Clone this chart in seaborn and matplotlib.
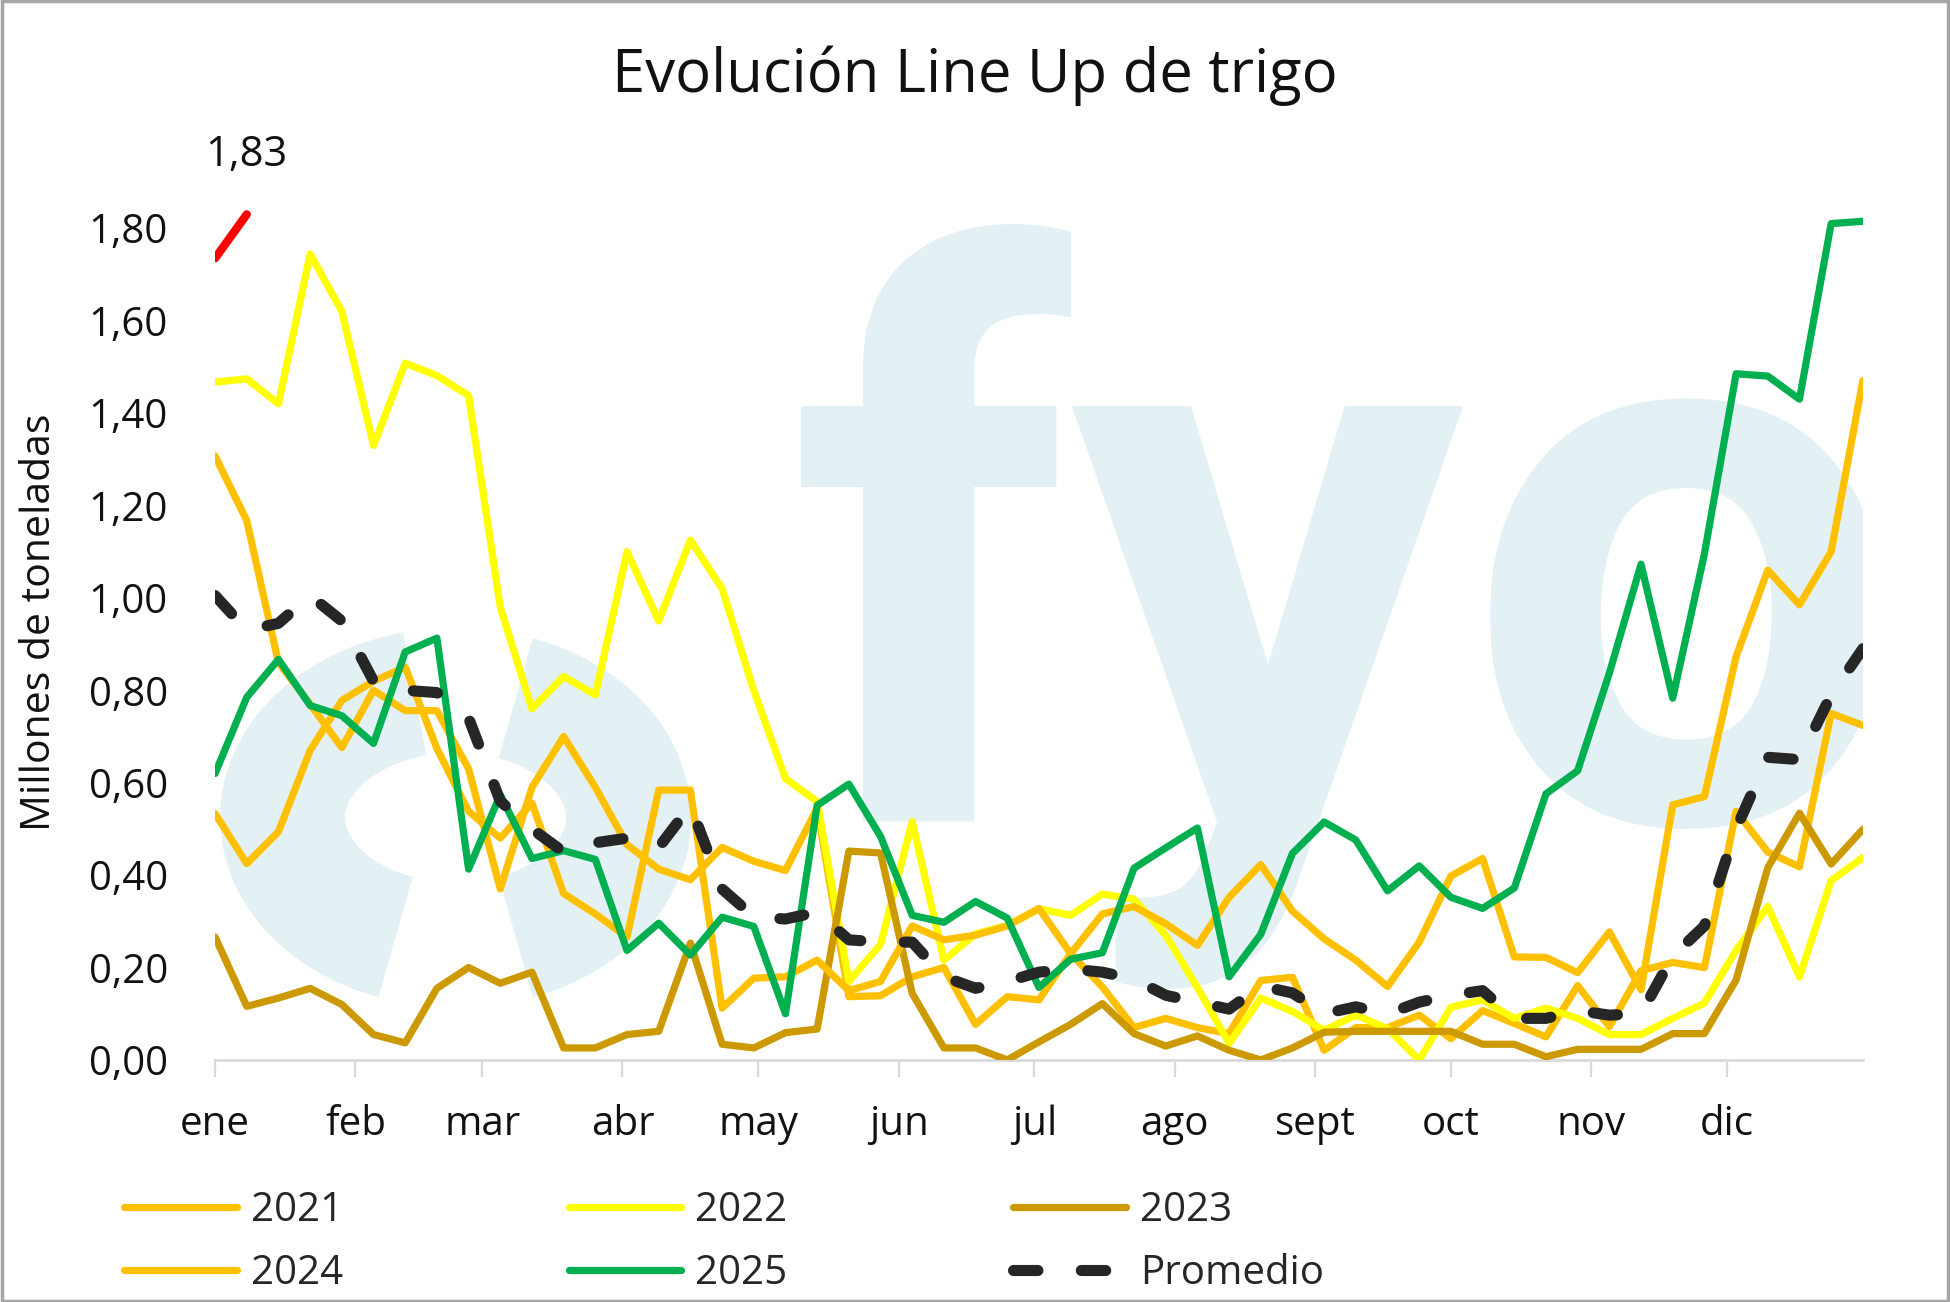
import numpy as np
import pandas as pd
import matplotlib
matplotlib.use("Agg")
import matplotlib.pyplot as plt
import seaborn as sns
from matplotlib.patches import Arc, Rectangle

# ---------------- data (weekly values, week 0 = 1 Jan) ----------------
semanas = list(range(53))

v2021 = [1.307, 1.167, 0.86, 0.77, 0.676, 0.80, 0.756, 0.756, 0.63, 0.37,
         0.59, 0.70, 0.59, 0.466, 0.413, 0.39, 0.46, 0.43, 0.41, 0.545,
         0.137, 0.139, 0.18, 0.20, 0.077, 0.137, 0.13, 0.23, 0.158, 0.07,
         0.09, 0.07, 0.057, 0.172, 0.179, 0.021, 0.07, 0.07, 0.097, 0.046,
         0.107, 0.079, 0.05, 0.161, 0.072, 0.193, 0.211, 0.20, 0.538, 0.45,
         0.418, 0.75, 0.724]

v2022 = [1.467, 1.474, 1.42, 1.744, 1.62, 1.33, 1.508, 1.481, 1.438, 0.98,
         0.76, 0.83, 0.79, 1.10, 0.95, 1.125, 1.02, 0.80, 0.609, 0.559,
         0.17, 0.25, 0.516, 0.216, 0.273, 0.291, 0.327, 0.313, 0.359, 0.348,
         0.27, 0.157, 0.036, 0.134, 0.105, 0.064, 0.097, 0.068, 0.0, 0.114,
         0.13, 0.09, 0.112, 0.09, 0.055, 0.055, 0.09, 0.123, 0.237, 0.332,
         0.18, 0.388, 0.438]

v2023 = [0.266, 0.116, 0.134, 0.155, 0.12, 0.055, 0.037, 0.155, 0.20, 0.166,
         0.19, 0.026, 0.026, 0.055, 0.062, 0.253, 0.034, 0.026, 0.059, 0.067,
         0.452, 0.448, 0.144, 0.026, 0.026, 0.0, 0.039, 0.077, 0.122, 0.057,
         0.03, 0.052, 0.021, 0.0, 0.026, 0.06, 0.062, 0.062, 0.062, 0.062,
         0.034, 0.034, 0.007, 0.023, 0.023, 0.023, 0.057, 0.057, 0.173, 0.416,
         0.534, 0.424, 0.499]

v2024 = [0.533, 0.425, 0.494, 0.67, 0.778, 0.82, 0.85, 0.674, 0.538, 0.48,
         0.556, 0.36, 0.316, 0.266, 0.584, 0.584, 0.112, 0.177, 0.18, 0.216,
         0.15, 0.17, 0.29, 0.26, 0.27, 0.29, 0.328, 0.23, 0.316, 0.332,
         0.295, 0.248, 0.352, 0.423, 0.322, 0.262, 0.216, 0.159, 0.255, 0.398,
         0.436, 0.223, 0.222, 0.189, 0.277, 0.152, 0.552, 0.57, 0.873, 1.06,
         0.985, 1.10, 1.47]

v2025 = [0.62, 0.785, 0.867, 0.767, 0.745, 0.685, 0.883, 0.913, 0.413, 0.574,
         0.436, 0.453, 0.434, 0.237, 0.296, 0.227, 0.309, 0.289, 0.10, 0.551,
         0.597, 0.484, 0.313, 0.298, 0.343, 0.307, 0.157, 0.218, 0.232, 0.415,
         0.459, 0.502, 0.18, 0.272, 0.447, 0.515, 0.476, 0.366, 0.42, 0.352,
         0.328, 0.372, 0.576, 0.626, 0.837, 1.073, 0.783, 1.095, 1.485, 1.48,
         1.43, 1.81, 1.815]

promedio = [1.005, 0.93, 0.945, 1.005, 0.95, 0.82, 0.80, 0.795, 0.74, 0.56,
            0.50, 0.45, 0.47, 0.48, 0.46, 0.55, 0.37, 0.31, 0.305, 0.32,
            0.26, 0.255, 0.255, 0.18, 0.155, 0.17, 0.19, 0.197, 0.19, 0.175,
            0.14, 0.125, 0.11, 0.16, 0.145, 0.10, 0.115, 0.10, 0.125, 0.14,
            0.15, 0.09, 0.09, 0.107, 0.097, 0.10, 0.225, 0.29, 0.50, 0.655,
            0.65, 0.79, 0.89]

destacado_x = [0, 1]
destacado_y = [1.735, 1.83]
destacado_txt = "1,83"

meses = ["ene", "feb", "mar", "abr", "may", "jun", "jul", "ago", "sept", "oct", "nov", "dic"]
dia_mes = [0, 31, 59, 90, 120, 151, 181, 212, 243, 273, 304, 334]

titulo = "Evolución Line Up de trigo"
ylabel = "Millones de toneladas"
marca_agua = "fyo"

# ---------------- style ----------------
sns.set_theme(style="white")
plt.rcParams["font.family"] = ["Open Sans", "DejaVu Sans"]

C_GOLD = "#FFC000"
C_YEL = "#FFFF00"
C_DARK = "#CC9900"
C_GREEN = "#00B050"
C_BLACK = "#262626"
C_WM = "#E3F1F5"

fig = plt.figure(figsize=(19.5, 13.02), dpi=100)
ax = fig.add_axes([0.1103, 0.1859, 0.845, 0.6743])
ax.set_xlim(0, 52)
ax.set_ylim(0, 1.9)

# ---------------- watermark ----------------
wm = ax.text(0.349, 0.272, marca_agua, transform=ax.transAxes, ha="left", va="baseline",
             fontsize=565, fontweight="bold", color=C_WM, zorder=0,
             family=["Roboto", "DejaVu Sans"])
wm.set_clip_on(True)
for th1, th2 in [(100, 255), (-75, 75)]:
    arc = Arc((0.146, 0.276), 0.21, 0.29, theta1=th1, theta2=th2,
              transform=ax.transAxes, color=C_WM, lw=90, zorder=0, capstyle="butt")
    ax.add_patch(arc)

# ---------------- lines ----------------
lw = 5.2
series = [("2021", v2021, C_GOLD, 2), ("2022", v2022, C_YEL, 3), ("2023", v2023, C_DARK, 4),
          ("2024", v2024, C_GOLD, 5), ("2025", v2025, C_GREEN, 6)]
for name, vals, col, z in series:
    sns.lineplot(x=semanas, y=vals, ax=ax, color=col, linewidth=lw, label=name,
                 zorder=z, solid_joinstyle="round", solid_capstyle="round")
sns.lineplot(x=semanas, y=promedio, ax=ax, color=C_BLACK, linewidth=8, label="Promedio",
             zorder=7, linestyle=(0, (2.2, 3.9)), dash_capstyle="round", dash_joinstyle="round")
sns.lineplot(x=destacado_x, y=destacado_y, ax=ax, color="#FF0000", linewidth=6,
             label="_nolegend_", zorder=8, solid_capstyle="round")
ax.annotate(destacado_txt, xy=(destacado_x[1], destacado_y[1]), xytext=(0, 43),
            textcoords="offset points", ha="center", va="center", fontsize=30,
            color="#111111", annotation_clip=False)

# ---------------- axes ----------------
for s in ["top", "right", "left"]:
    ax.spines[s].set_visible(False)
ax.spines["bottom"].set_color("#D9D9D9")
ax.spines["bottom"].set_linewidth(2)

ax.set_xticks([d / 7 for d in dia_mes])
ax.set_xticklabels(meses)
yt = np.round(np.arange(0, 1.81, 0.2), 2)
ax.set_yticks(yt)
ax.set_yticklabels([f"{v:.2f}".replace(".", ",") for v in yt])
ax.tick_params(axis="x", length=12, width=1.6, color="#D9D9D9", direction="out",
               pad=20, labelsize=29, labelcolor="#111111", bottom=True)
ax.tick_params(axis="y", length=0, pad=34, labelsize=29, labelcolor="#111111")
ax.set_xlabel("")
ax.set_ylabel(ylabel, fontsize=29.5, color="#111111")
ax.yaxis.set_label_coords(-0.094, 0.498)
ax.grid(False)

fig.text(0.5, 0.942, titulo, ha="center", va="center", fontsize=43, color="#111111")

# ---------------- legend ----------------
handles, labels = ax.get_legend_handles_labels()
hmap = dict(zip(labels, handles))
order = ["2021", "2024", "2022", "2025", "2023", "Promedio"]
if ax.get_legend() is not None:
    ax.get_legend().remove()
fig.legend([hmap[k] for k in order], order, ncol=3, loc="upper left",
           bbox_to_anchor=(0.0636, 0.0855), frameon=False, fontsize=29,
           handlelength=2.8, handletextpad=0.35, columnspacing=5.6,
           labelspacing=0.55, borderpad=0, borderaxespad=0)

fig.add_artist(Rectangle((0.001, 0.001), 0.998, 0.998, transform=fig.transFigure,
                         fill=False, edgecolor="#A6A6A6", lw=2.5))

fig.savefig("out.png", dpi=100, facecolor="white")
